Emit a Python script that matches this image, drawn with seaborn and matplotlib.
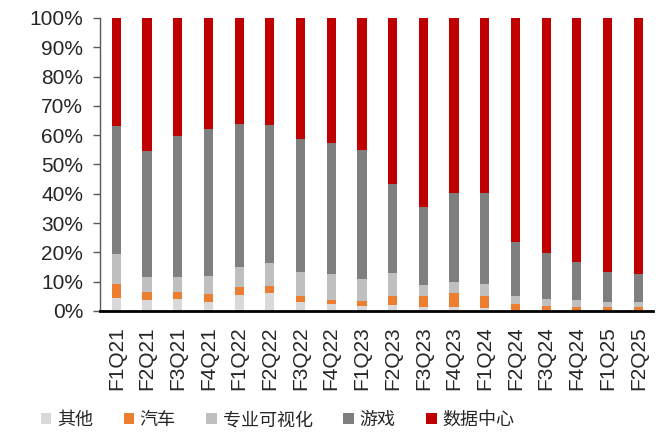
import numpy as np
import pandas as pd
import matplotlib
matplotlib.use("Agg")
import matplotlib.pyplot as plt
from matplotlib.patches import Patch
from matplotlib.ticker import PercentFormatter
import seaborn as sns

quarters = ["F1Q21", "F2Q21", "F3Q21", "F4Q21", "F1Q22", "F2Q22", "F3Q22", "F4Q22", "F1Q23",
            "F2Q23", "F3Q23", "F4Q23", "F1Q24", "F2Q24", "F3Q24", "F4Q24", "F1Q25", "F2Q25"]

other = [4.3, 3.7, 4.0, 3.0, 5.6, 6.2, 3.2, 2.4, 1.6, 1.9, 1.2, 1.3, 0.9, 0.3, 0.3, 0.3, 0.3, 0.3]
auto = [4.9, 2.8, 2.5, 2.8, 2.7, 2.2, 1.8, 1.5, 1.7, 3.2, 4.0, 4.8, 4.1, 2.0, 1.5, 1.1, 1.1, 1.1]
proviz = [10.3, 5.2, 5.1, 6.3, 6.6, 8.1, 8.2, 8.6, 7.5, 7.7, 3.6, 3.7, 4.1, 2.8, 2.3, 2.3, 1.7, 1.6]
gaming = [43.5, 42.9, 48.1, 49.9, 48.8, 47.1, 45.4, 44.7, 44.0, 30.4, 26.6, 30.4, 31.3, 18.3, 15.6, 12.9, 10.1, 9.5]
datacenter = [37.0, 45.4, 40.3, 38.0, 36.3, 36.4, 41.4, 42.8, 45.2, 56.8, 64.6, 59.8, 59.6, 76.6, 80.3, 83.4, 86.8, 87.5]

segments = ["其他", "汽车", "专业可视化", "游戏", "数据中心"]
colors = ["#D9D9D9", "#ED7D31", "#BFBFBF", "#7F7F7F", "#C00000"]
values = [other, auto, proviz, gaming, datacenter]

sns.set_style("ticks")
plt.rcParams["font.family"] = ["Liberation Sans", "DejaVu Sans"]

fig = plt.figure(figsize=(6.61, 4.38), dpi=100)
ax = fig.add_axes([0.1513, 0.290, 0.8362, 0.669])

# stack each segment on top of the running total
bottom = np.zeros(len(quarters))
for name, vals, col in zip(segments, values, colors):
    df = pd.DataFrame({"quarter": quarters, "share": vals})
    sns.barplot(data=df, x="quarter", y="share", color=col, width=0.3,
                bottom=bottom.copy(), saturation=1, ax=ax, linewidth=0)
    bottom += np.array(vals)

ax.set_xlim(-0.53, 17.47)
ax.set_ylim(0, 100)
ax.set_yticks(np.arange(0, 101, 10))
ax.yaxis.set_major_formatter(PercentFormatter(decimals=0))
ax.set_xlabel("")
ax.set_ylabel("")
ax.tick_params(axis="x", length=0, pad=11, labelsize=15, rotation=90)
ax.tick_params(axis="y", length=5, width=1, color="#595959", pad=7, labelsize=15)
for lab in ax.get_xticklabels():
    lab.set_verticalalignment("top")

sns.despine(ax=ax)
ax.spines["left"].set_color("#595959")
ax.spines["left"].set_linewidth(1)
ax.spines["bottom"].set_color("black")
ax.spines["bottom"].set_linewidth(2)

handles = [Patch(facecolor=c, edgecolor="none", label=s) for s, c in zip(segments, colors)]
fig.legend(handles=handles, loc="center", bbox_to_anchor=(0.42, 0.041), ncol=5,
           frameon=False, handlelength=0.6, handleheight=0.6, handletextpad=0.3,
           columnspacing=1.7, prop={"family": ["Noto Sans CJK SC", "DejaVu Sans"], "size": 13})

fig.savefig("out.png", dpi=100)
